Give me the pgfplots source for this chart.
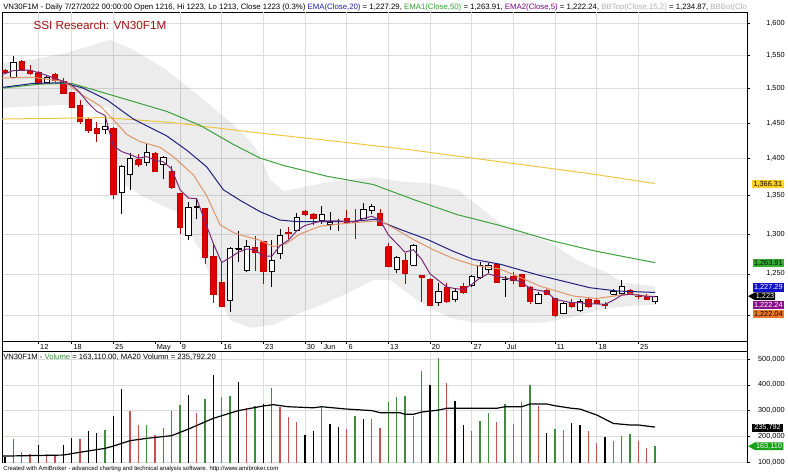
\documentclass[border=0pt]{standalone}
\usepackage{pgfplots}
\pgfplotsset{compat=1.18}
\usepackage{pgfplotstable}
\usepackage{fontspec}
\setmainfont{Liberation Sans}

\definecolor{candlered}{HTML}{E00000}
\definecolor{wickred}{HTML}{B00000}
\definecolor{ema20col}{HTML}{20207F}
\definecolor{ema50col}{HTML}{3CA03C}
\definecolor{ema5col}{HTML}{7A2A7A}
\definecolor{ema10col}{HTML}{E0946A}
\definecolor{yellowline}{HTML}{EEC640}
\definecolor{gridgray}{HTML}{DCDCDC}
\definecolor{volgreen}{HTML}{3C8C3C}
\definecolor{volred}{HTML}{C85050}
\definecolor{titlered}{HTML}{A01010}
\definecolor{bbgray}{HTML}{B0B0B0}
\definecolor{hdrblue}{HTML}{2020A0}
\definecolor{hdrgreen}{HTML}{30A030}
\definecolor{hdrpurple}{HTML}{800080}
\definecolor{boxyellow}{HTML}{FFD21E}
\definecolor{boxgreen}{HTML}{33B033}
\definecolor{boxblue}{HTML}{1010C8}
\definecolor{boxpurple}{HTML}{8A108A}
\definecolor{boxorange}{HTML}{F07828}
\definecolor{boxvgreen}{HTML}{15A015}

\pgfplotsset{
  candleup/.style={draw=black, fill=white, line width=0.6pt},
  candledown/.style={draw=candlered!85!black, fill=candlered, line width=0.6pt},
}

% bar index, open, high, low, close
\pgfplotstableread{
i o h l c
0 1527 1530 1522 1525
1 1517 1549 1516 1539
2 1541 1543 1527 1529
3 1528 1535 1521 1523
4 1524 1527 1506 1508
5 1510 1521 1509 1517
6 1521 1523 1510 1512
7 1511 1516 1492 1493
8 1494 1496 1472 1473
9 1475 1483 1449 1453
10 1456 1458 1436 1440
11 1443 1452 1424 1436
12 1441 1460 1435 1445
13 1443 1445 1345 1352
14 1355 1392 1326 1389
15 1379 1408 1358 1401
16 1399 1406 1389 1393
17 1395 1422 1390 1409
18 1408 1409 1382 1383
19 1392 1404 1372 1402
20 1383 1390 1359 1361
21 1353 1354 1300 1308
22 1298 1342 1292 1334
23 1334 1347 1319 1336
24 1333 1334 1262 1270
25 1272 1289 1215 1225
26 1240 1265 1210 1211
27 1218 1284 1204 1282
28 1281 1304 1265 1282
29 1254 1293 1252 1284
30 1283 1298 1254 1277
31 1290 1290 1238 1253
32 1253 1293 1234 1267
33 1275 1306 1268 1298
34 1302 1309 1294 1301
35 1305 1327 1305 1321
36 1330 1331 1323 1326
37 1326 1327 1311 1320
38 1318 1337 1313 1326
39 1312 1329 1305 1315
40 1316 1320 1304 1316
41 1320 1331 1313 1315
42 1316 1333 1294 1315
43 1320 1341 1320 1332
44 1331 1339 1326 1336
45 1327 1332 1310 1311
46 1284 1289 1258 1259
47 1255 1272 1251 1270
48 1267 1276 1237 1251
49 1261 1287 1261 1286
50 1248 1249 1216 1246
51 1243 1245 1211 1212
52 1215 1239 1211 1228
53 1233 1239 1215 1216
54 1219 1231 1216 1228
55 1235 1239 1226 1227
56 1236 1249 1234 1247
57 1246 1265 1244 1261
58 1255 1263 1251 1261
59 1262 1264 1240 1240
60 1243 1247 1222 1243
61 1247 1252 1238 1242
62 1249 1250 1234 1235
63 1234 1235 1214 1216
64 1214 1228 1213 1225
65 1230 1232 1224 1225
66 1220 1221 1198 1200
67 1202 1216 1201 1214
68 1215 1219 1209 1210
69 1206 1219 1204 1216
70 1219 1221 1209 1210
71 1218 1220 1213 1214
72 1213 1216 1208 1212
73 1225 1231 1224 1228
74 1226 1242 1225 1235
75 1230 1232 1224 1226
76 1222.5 1226 1220 1222
77 1222 1226 1218 1219
78 1216 1223 1213 1223
}\candles

\pgfplotstableread{
x v
1 188000
12 224500
17 244000
19 232000
20 297000
21 323000
24 345000
27 358000
30 318000
32 389000
38 315000
42 279000
46 335000
47 354000
48 357000
50 454000
52 503000
57 261000
58 289000
60 325700
62 335000
63 400000
66 228000
74 201000
75 207700
78 163110
}\volG

\pgfplotstableread{
x v
2 140000
3 130000
5 130000
6 125000
9 189500
15 300000
16 244000
18 205000
23 292000
26 354000
29 309000
33 315000
34 274000
35 254000
41 227000
44 266000
45 231000
49 280000
53 406000
56 220600
59 257000
61 248000
64 318000
67 224500
70 222000
71 175000
73 182000
76 182000
77 153000
}\volR

\pgfplotstableread{
x v
0 118000
4 166000
7 166000
8 192000
10 222000
11 211500
13 279000
14 383000
22 361000
25 438500
28 410000
31 325700
36 205000
37 220600
39 248000
40 235000
43 267000
51 400000
54 337000
55 244000
65 211500
68 253000
69 244000
72 198600
}\volK

\newcommand{\tk}{\fontsize{5.5}{6}\selectfont}

\begin{document}
\begin{tikzpicture}
\path[use as bounding box] (0pt,0pt) rectangle (591pt,-356.25pt);

%================ PRICE PANEL ================
\begin{axis}[
  at={(1.5pt,-255.75pt)}, anchor=south west,
  scale only axis, width=558.75pt, height=246.75pt,
  xmin=-0.36, xmax=89.04,
  ymode=log, ymin=1170.1, ymax=1618.1,
  axis line style={black, line width=0.6pt},
  ytick={1200,1250,1300,1350,1400,1450,1500,1550,1600},
  yticklabels={{},{1,250},{1,300},{1,350},{1,400},{1,450},{1,500},{1,550},{1,600}},
  ytick pos=right, yticklabel pos=right,
  yticklabel style={anchor=east, inner sep=0pt, xshift=26.25pt, font=\tk},
  ymajorgrids, major grid style={gridgray, line width=0.5pt},
  minor y tick num=0,
  xtick={4,8,13,18,21,26,31,36,38,41,46,51,56,60,66,71,76},
  xticklabels={12,18,25,May,9,16,23,30,Jun,6,13,20,27,Jul,11,18,25},
  xtick pos=bottom,
  xticklabel style={anchor=north west, inner sep=0pt, xshift=1.2pt, yshift=-0.2pt, font=\tk},
  extra x ticks={4,8,13,21,26,31,36,41,46,51,56,61,66,71,76},
  extra x tick labels={},
  extra x tick style={grid=major, major tick length=0pt},
  tick align=outside, major tick length=2.2pt,
  tick style={black, line width=0.5pt},
]
% Bollinger band cloud (BBTop / BBBot, 15, 2)
\addplot[draw=none, fill=black, fill opacity=0.075, forget plot] coordinates {
(-0.36,1539) (3,1543) (7.4,1554) (11.4,1569.5) (12.6,1574) (15.4,1558.6) (19.4,1528)
(23.4,1488) (27.4,1448) (29.4,1425) (30.6,1405) (31.8,1372) (33.4,1356) (38.2,1367) (44.2,1375)
(47.4,1369) (50.7,1367) (54.3,1358) (57,1335) (59.4,1314) (65.4,1289) (68.7,1267)
(72.3,1251) (74.2,1239) (78,1234.87)
(78,1212.5) (75,1211.2) (71.4,1206.5) (67.8,1197) (64.2,1191) (59.4,1191) (56.4,1191)
(53.4,1197) (51,1208.9) (48.6,1224.4) (46.2,1242.6) (44.2,1242.6) (41.4,1228) (38.6,1214.8)
(35.4,1202.9) (32.2,1188.8) (29.4,1185.3) (27,1194.6) (25.2,1230) (23.4,1280) (20.6,1328.8)
(16.6,1348.5) (14.4,1364.6) (13,1412.5) (12.6,1472) (6.6,1476.5) (-0.36,1472) (-0.36,1539)
};

% candlesticks
\pgfplotstablegetrowsof{\candles}
\pgfmathtruncatemacro{\nrows}{\pgfplotsretval-1}
\foreach \r in {0,...,\nrows}{
  \pgfplotstablegetelem{\r}{i}\of\candles \edef\ci{\pgfplotsretval}
  \pgfplotstablegetelem{\r}{o}\of\candles \edef\co{\pgfplotsretval}
  \pgfplotstablegetelem{\r}{h}\of\candles \edef\ch{\pgfplotsretval}
  \pgfplotstablegetelem{\r}{l}\of\candles \edef\cl{\pgfplotsretval}
  \pgfplotstablegetelem{\r}{c}\of\candles \edef\cc{\pgfplotsretval}
  \pgfmathsetmacro{\xa}{\ci-0.33}
  \pgfmathsetmacro{\xb}{\ci+0.33}
  \pgfmathtruncatemacro{\up}{\cc>=\co ? 1 : 0}
  \ifnum\up=1 \def\bodystyle{candleup}\def\wickcol{black}\else\def\bodystyle{candledown}\def\wickcol{wickred}\fi
  \edef\doit{%
    \noexpand\addplot[\wickcol, line width=0.75pt, forget plot] coordinates {(\ci,\cl) (\ci,\ch)};
    \noexpand\addplot[\bodystyle, forget plot] coordinates {(\xa,\co) (\xb,\co) (\xb,\cc) (\xa,\cc) (\xa,\co)};
  }\doit
}

% long-term yellow line
\addplot[yellowline, line width=0.75pt] coordinates {
(-0.36,1456) (12,1458) (20,1451) (30.6,1436) (40,1424) (48.6,1412.5) (59.4,1396) (70,1380) (78,1366.31)};
% EMA50
\addplot[ema50col, line width=0.75pt] coordinates {
(-0.36,1501) (4.2,1507) (8,1508) (13,1490) (19.4,1467) (23.4,1447) (27.4,1420) (30.6,1401)
(33.4,1391) (38.7,1376) (44.2,1365) (49,1345) (54.3,1325) (59.4,1311) (65.4,1292) (71,1278) (78,1263.91)};
% EMA20
\addplot[ema20col, line width=0.75pt] coordinates {
(-0.36,1502) (3.4,1508) (7,1509) (9.4,1501) (12.2,1484) (15.4,1456) (19.4,1432) (21.8,1412)
(24.2,1389) (26.2,1358) (28.2,1344) (30.6,1329) (33,1318) (35,1316) (41.4,1316) (44.4,1319)
(47.4,1306) (50.7,1293) (53.8,1278) (56.2,1268) (59.4,1262) (64.2,1248) (70.2,1233) (73.5,1229) (78,1227.29)};
% EMA10 (tan)
\addplot[ema10col, line width=0.75pt] coordinates {
(-0.36,1516) (3.4,1517) (7,1511) (9.4,1490) (11.4,1475) (13,1455) (14.6,1434) (16.2,1424)
(18.6,1416) (20.2,1403) (22.6,1378) (24.2,1350) (25.8,1312) (27.4,1302) (28.2,1299) (30.6,1292)
(32.2,1284) (33.8,1288) (35.4,1300) (37.8,1310) (40.2,1313) (43.4,1316) (45,1317) (46.6,1308)
(49,1293) (51.4,1280) (53.8,1269) (56.2,1261) (59.4,1256) (62.2,1244) (64.2,1235) (68.2,1223)
(71,1220) (73.4,1223.5) (75,1225.5) (78,1222.04)};
% EMA5
\addplot[ema5col, line width=0.75pt] coordinates {
(-0.36,1521) (1,1527) (3,1528) (5,1520) (7,1511) (8,1506) (9,1494) (10,1479) (11,1467) (12,1461)
(13,1418) (14,1410) (15,1406) (16,1401) (17,1403) (18,1398) (19,1396) (20,1386) (21,1358) (22,1347)
(23,1346) (24,1316) (25,1288) (26,1264) (27,1270) (28,1277) (29,1281) (30,1280) (31,1272) (32,1272)
(33,1285) (34,1292) (35,1304) (36,1311) (37,1314) (38,1317) (39,1317) (40,1317) (41,1316) (42,1316)
(43,1320) (44,1323) (45,1318) (46,1299) (47,1288) (48,1277) (49,1280) (50,1268) (51,1250) (52,1242)
(53,1234) (54,1232) (55,1231) (56,1237) (57,1245) (58,1250) (59,1247) (60,1245) (61,1243) (62,1240)
(63,1232) (64,1230) (65,1228) (66,1219) (67,1217) (68,1215) (69,1215) (70,1213.5) (71,1213.5) (72,1213)
(73,1218) (74,1224) (75,1225) (76,1224) (77,1222.5) (78,1222.24)};
\end{axis}

%================ VOLUME PANEL ================
\begin{axis}[
  at={(1.5pt,-347.25pt)}, anchor=south west,
  scale only axis, width=558.75pt, height=84pt,
  xmin=-0.36, xmax=89.04, ymin=96100, ymax=531900,
  axis x line*=top,
  axis line style={black, line width=0.6pt},
  xtick={4,8,13,21,26,31,36,41,46,51,56,61,66,71,76}, xticklabels={},
  xmajorgrids, major x tick style={draw=none},
  ytick={100000,200000,300000,400000,500000},
  yticklabels={{100,000},{200,000},{300,000},{400,000},{500,000}},
  scaled y ticks=false,
  ytick pos=right, yticklabel pos=right,
  yticklabel style={anchor=east, inner sep=0pt, xshift=26.25pt, font=\tk},
  ymajorgrids, major grid style={gridgray, line width=0.5pt},
  tick align=outside, major tick length=2.2pt,
  tick style={black, line width=0.5pt},
]
\addplot[ycomb, volgreen, line width=1.1pt] table[x=x, y=v] {\volG};
\addplot[ycomb, volred, line width=1.1pt] table[x=x, y=v] {\volR};
\addplot[ycomb, black, line width=1.1pt] table[x=x, y=v] {\volK};
% MA20 of volume
\addplot[black, line width=0.9pt] coordinates {
(-0.36,123000) (7,127000) (9,138000) (12,153000) (13,162000) (15,183000) (17,192000) (20,202500)
(22,228000) (25,270000) (28,300000) (31,318000) (32.2,323000) (34,315000) (37,311000) (38,315000)
(41,306000) (44,300000) (45,292000) (47.4,292000) (48,285500) (49,285500) (50,294500) (52,302000)
(53,309000) (59,309000) (60,315000) (62,315000) (63,325700) (65,325700) (66,319000) (68,309000)
(69,306000) (71,283000) (73,250000) (75,244000) (76,244000) (78,235792)};
\end{axis}

%================ TEXT AND LABEL BOXES (pixel frame) ================
\begin{scope}[x=0.75pt, y=-0.75pt]
  % date strip side lines
  \draw[black, line width=0.6pt] (2,341) -- (2,351);
  \draw[black, line width=0.6pt] (747,341) -- (747,351);
  % header (clipped at plot edge, as in the original)
  \begin{scope}
    \clip (0,0) rectangle (746,12);
    \node[anchor=base west, inner sep=0pt, font=\fontsize{5.85}{6.5}\selectfont] at (3,9)
      {VN30F1M - Daily 7/27/2022 00:00:00 Open 1216, Hi 1223, Lo 1213, Close 1223 (0.3\%) \textcolor{hdrblue}{EMA(Close,20)} = 1,227.29, \textcolor{hdrgreen}{EMA1(Close,50)} = 1,263.91, \textcolor{hdrpurple}{EMA2(Close,5)} = 1,222.24, \textcolor{bbgray}{BBTop(Close,15,2)} = 1,234.87, \textcolor{bbgray}{BBBot(Clo}};
  \end{scope}
  \node[anchor=base west, inner sep=0pt, font=\fontsize{8.8}{10}\selectfont, text=titlered] at (33.3,29.3) {SSI Research: VN30F1M};
  \node[anchor=base west, inner sep=0pt, font=\fontsize{5.75}{6.5}\selectfont] at (3,359.5)
    {VN30F1M - \textcolor{volgreen}{Volume} = 163,110.00, MA20 Volumn = 235,792.20};
  \node[anchor=base west, inner sep=0pt, font=\fontsize{4.5}{5}\selectfont] at (3,470.5)
    {Created with AmiBroker - advanced charting and technical analysis software. http://www.amibroker.com};

  % value boxes, price panel
  \fill[boxyellow] (752,180) rectangle (783.5,188.3);
  \node[inner sep=0pt, font=\tk, text=black] at (767.8,184.3) {1,366.31};
  \fill[boxgreen] (752.7,259.3) rectangle (784,267.3);
  \node[inner sep=0pt, font=\tk, text=black] at (768.3,263.4) {1,263.91};
  \fill[boxblue] (752.7,283.3) rectangle (784,291.7);
  \node[inner sep=0pt, font=\tk, text=white] at (768.3,287.6) {1,227.29};
  \fill[black] (748,296.2) -- (755,292.3) -- (775,292.3) -- (775,300.1) -- (755,300.1) -- cycle;
  \node[inner sep=0pt, font=\tk, text=white] at (765,296.3) {1,223};
  \fill[boxpurple] (752.7,301) rectangle (784,309.3);
  \node[inner sep=0pt, font=\tk, text=white] at (768.3,305.2) {1,222.24};
  \fill[boxorange] (752.7,310) rectangle (784,318.3);
  \node[inner sep=0pt, font=\tk, text=black] at (768.3,314.2) {1,222.04};

  % value boxes, volume panel
  \fill[black] (751.7,424) rectangle (783.3,431.7);
  \node[inner sep=0pt, font=\tk, text=white] at (767.5,427.9) {235,792};
  \fill[boxvgreen] (748,446.2) -- (755,442.3) -- (783.3,442.3) -- (783.3,450.1) -- (755,450.1) -- cycle;
  \node[inner sep=0pt, font=\tk, text=white] at (769,446.3) {163,110};
\end{scope}
\end{tikzpicture}
\end{document}
